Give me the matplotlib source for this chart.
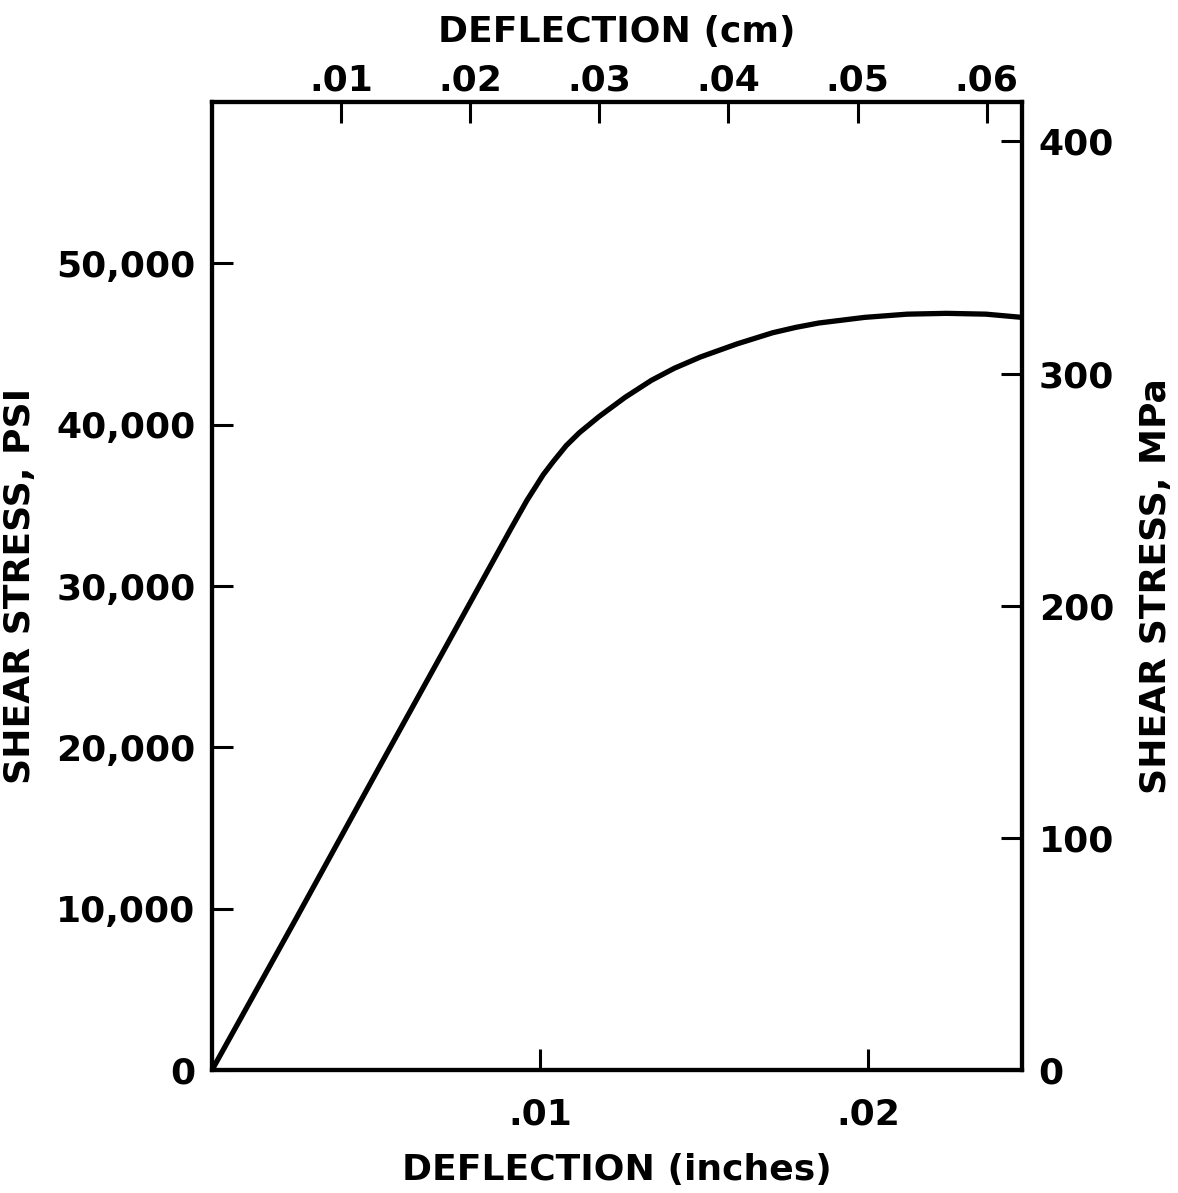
import numpy as np
import matplotlib
matplotlib.use("Agg")
import matplotlib.pyplot as plt
from matplotlib.ticker import FuncFormatter

# curve: deflection (inches) vs shear stress (psi)
defl_in = [0.0, 0.00254, 0.00508, 0.0075, 0.0091, 0.0096, 0.0101, 0.0104,
           0.0108, 0.0112, 0.0118, 0.0126, 0.0134, 0.0141, 0.0149, 0.0160,
           0.0171, 0.0178, 0.0185, 0.0199, 0.0212, 0.0224, 0.0236, 0.0247]
stress_psi = [0, 9300, 18700, 27600, 33500, 35300, 36900, 37700,
              38700, 39500, 40500, 41700, 42750, 43500, 44200, 45000,
              45700, 46030, 46300, 46650, 46850, 46900, 46850, 46650]

psi_ticks = [0, 10000, 20000, 30000, 40000, 50000]
psi_labels = ["0", "10,000", "20,000", "30,000", "40,000", "50,000"]
mpa_ticks = [0, 100, 200, 300, 400]
in_ticks = [0.01, 0.02]
cm_ticks = [0.01, 0.02, 0.03, 0.04, 0.05, 0.06]

x_max_in = 0.0247
y_max_psi = 60000
y_max_mpa = 417

plt.rcParams['font.family'] = ['DejaVu Sans']
plt.rcParams['font.weight'] = 'bold'

fig = plt.figure(figsize=(11.78, 11.93), dpi=100)
ax = fig.add_axes([0.18, 0.1031, 0.6876, 0.8114])

ax.plot(defl_in, stress_psi, color='black', lw=3.8,
        solid_capstyle='round', solid_joinstyle='round')
ax.set_xlim(0, x_max_in)
ax.set_ylim(0, y_max_psi)

for s in ax.spines.values():
    s.set_linewidth(3)

fs = 26
tick_kw = dict(direction='in', length=15, width=2.2, labelsize=fs)

ax.set_xticks(in_ticks)
ax.xaxis.set_major_formatter(FuncFormatter(lambda v, p: ("%.2f" % v).lstrip("0")))
ax.tick_params(axis='x', pad=20, **tick_kw)
ax.set_yticks(psi_ticks)
ax.set_yticklabels(psi_labels)
ax.tick_params(axis='y', pad=12, **tick_kw)
for lab in ax.get_xticklabels() + ax.get_yticklabels():
    lab.set_fontweight('bold')

ax.set_xlabel("DEFLECTION (inches)", fontsize=fs, fontweight='bold', labelpad=15)
ax.set_ylabel("SHEAR STRESS, PSI", fontsize=fs, fontweight='bold', labelpad=14)

# right axis in MPa
axr = ax.twinx()
axr.set_ylim(0, y_max_mpa)
axr.set_yticks(mpa_ticks)
axr.tick_params(axis='y', pad=12, **tick_kw)
for lab in axr.get_yticklabels():
    lab.set_fontweight('bold')
axr.set_ylabel("SHEAR STRESS, MPa", fontsize=fs, fontweight='bold', labelpad=18)
for s in axr.spines.values():
    s.set_linewidth(3)

# top axis in cm
axt = ax.twiny()
axt.set_xlim(0, x_max_in * 2.54)
axt.set_xticks(cm_ticks)
axt.xaxis.set_major_formatter(FuncFormatter(lambda v, p: ("%.2f" % v).lstrip("0")))
axt.tick_params(axis='x', pad=3, **tick_kw)
for lab in axt.get_xticklabels():
    lab.set_fontweight('bold')
axt.set_xlabel("DEFLECTION (cm)", fontsize=fs, fontweight='bold', labelpad=16)

fig.savefig("out.png", dpi=100, facecolor='white')
